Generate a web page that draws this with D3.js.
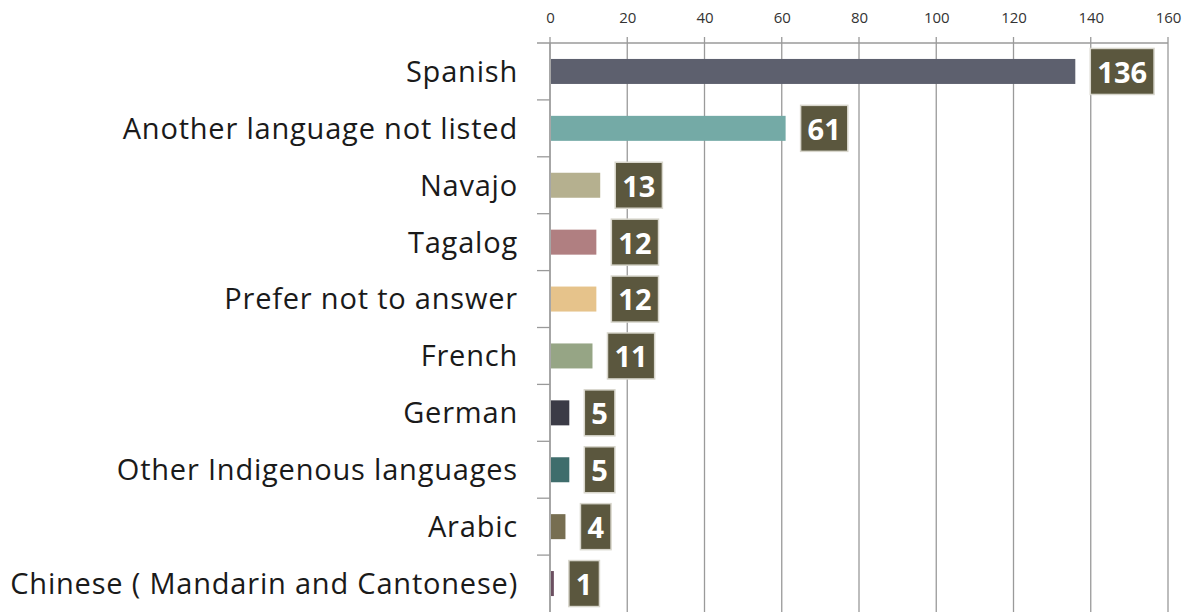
<!DOCTYPE html>
<html>
<head>
<meta charset="utf-8">
<script src="https://cdn.jsdelivr.net/npm/d3@7"></script>
<style>
  html, body { margin: 0; padding: 0; background: #fff; }
  svg { display: block; }
</style>
</head>
<body>
<svg id="chart" width="1186" height="612"></svg>
<script>
// Languages spoken, counts of respondents
const categories = [
  "Spanish",
  "Another language not listed",
  "Navajo",
  "Tagalog",
  "Prefer not to answer",
  "French",
  "German",
  "Other Indigenous languages",
  "Arabic",
  "Chinese ( Mandarin and Cantonese)"
];
const values = [136, 61, 13, 12, 12, 11, 5, 5, 4, 1];
const barColors = [
  "#5d606e", "#74aaa6", "#b5b08f", "#b07f81", "#e6c38b",
  "#96a585", "#3b3b46", "#3f6d6c", "#776e51", "#6b4f60"
];
const tickValues = [0, 20, 40, 60, 80, 100, 120, 140, 160];

const svg = d3.select("#chart");
const W = 1186, H = 612;
const margin = { top: 43, right: 18, bottom: 0, left: 550 };

const x = d3.scaleLinear().domain([0, 160]).range([margin.left, W - margin.right]);
const y = d3.scaleBand().domain(categories).range([margin.top, H - margin.bottom]).paddingInner(0).paddingOuter(0);

const gridColor = "#9a9a9a";
const font = "'Open Sans', sans-serif";

// vertical gridlines (with small ticks above the axis line)
svg.append("g").selectAll("line").data(tickValues).join("line")
  .attr("x1", d => x(d)).attr("x2", d => x(d))
  .attr("y1", margin.top - 6).attr("y2", H)
  .attr("stroke", gridColor).attr("stroke-width", 1.3);

// top axis line
svg.append("line")
  .attr("x1", margin.left - 13).attr("x2", x(160))
  .attr("y1", margin.top).attr("y2", margin.top)
  .attr("stroke", gridColor).attr("stroke-width", 1.3);

// top axis tick labels
const xAxis = d3.axisTop(x).tickValues(tickValues).tickSize(0).tickPadding(0);
const gx = svg.append("g").attr("transform", "translate(0, 23)").call(xAxis);
gx.select(".domain").remove();
gx.selectAll("text")
  .attr("font-family", font)
  .attr("font-size", 15)
  .attr("fill", "#333");

// left axis line and category boundary ticks
svg.append("line")
  .attr("x1", margin.left).attr("x2", margin.left)
  .attr("y1", margin.top).attr("y2", H)
  .attr("stroke", gridColor).attr("stroke-width", 1.3);
svg.append("g").selectAll("line").data(categories.slice(1)).join("line")
  .attr("x1", margin.left - 13).attr("x2", margin.left)
  .attr("y1", d => y(d)).attr("y2", d => y(d))
  .attr("stroke", gridColor).attr("stroke-width", 1.3);

// category labels
svg.append("g").selectAll("text").data(categories).join("text")
  .attr("x", margin.left - 32)
  .attr("y", d => y(d) + y.bandwidth() / 2)
  .attr("dy", "0.36em")
  .attr("text-anchor", "end")
  .attr("font-family", font)
  .attr("font-size", 29)
  .attr("letter-spacing", 0.8)
  .attr("fill", "#1a1a1a")
  .text(d => d);

// bars
const barH = 25;
const rows = categories.map((c, i) => ({ c, v: values[i], color: barColors[i] }));
svg.append("g").selectAll("rect").data(rows).join("rect")
  .attr("x", x(0) + 1)
  .attr("y", d => y(d.c) + y.bandwidth() / 2 - barH / 2)
  .attr("width", d => Math.max(1.5, x(d.v) - x(0) - 1))
  .attr("height", barH)
  .attr("fill", d => d.color);

// value label boxes
const boxH = 46, padX = 7, gap = 15;
const lbl = svg.append("g").selectAll("g").data(rows).join("g");
lbl.append("rect");
lbl.append("text")
  .attr("font-family", font)
  .attr("font-weight", "bold")
  .attr("font-size", 29)
  .attr("fill", "#fff")
  .attr("text-anchor", "middle")
  .attr("dy", "0.36em")
  .text(d => d.v);
lbl.each(function (d) {
  const g = d3.select(this);
  const t = g.select("text");
  const tw = t.node().getComputedTextLength();
  const bw = tw + padX * 2;
  const bx = x(d.v) + gap;
  const cy = y(d.c) + y.bandwidth() / 2;
  g.select("rect")
    .attr("x", bx).attr("y", cy - boxH / 2)
    .attr("width", bw).attr("height", boxH)
    .attr("fill", "#5b573e")
    .attr("stroke", "#d8d6cc").attr("stroke-width", 1.5);
  t.attr("x", bx + bw / 2).attr("y", cy + 1);
});
</script>
</body>
</html>
